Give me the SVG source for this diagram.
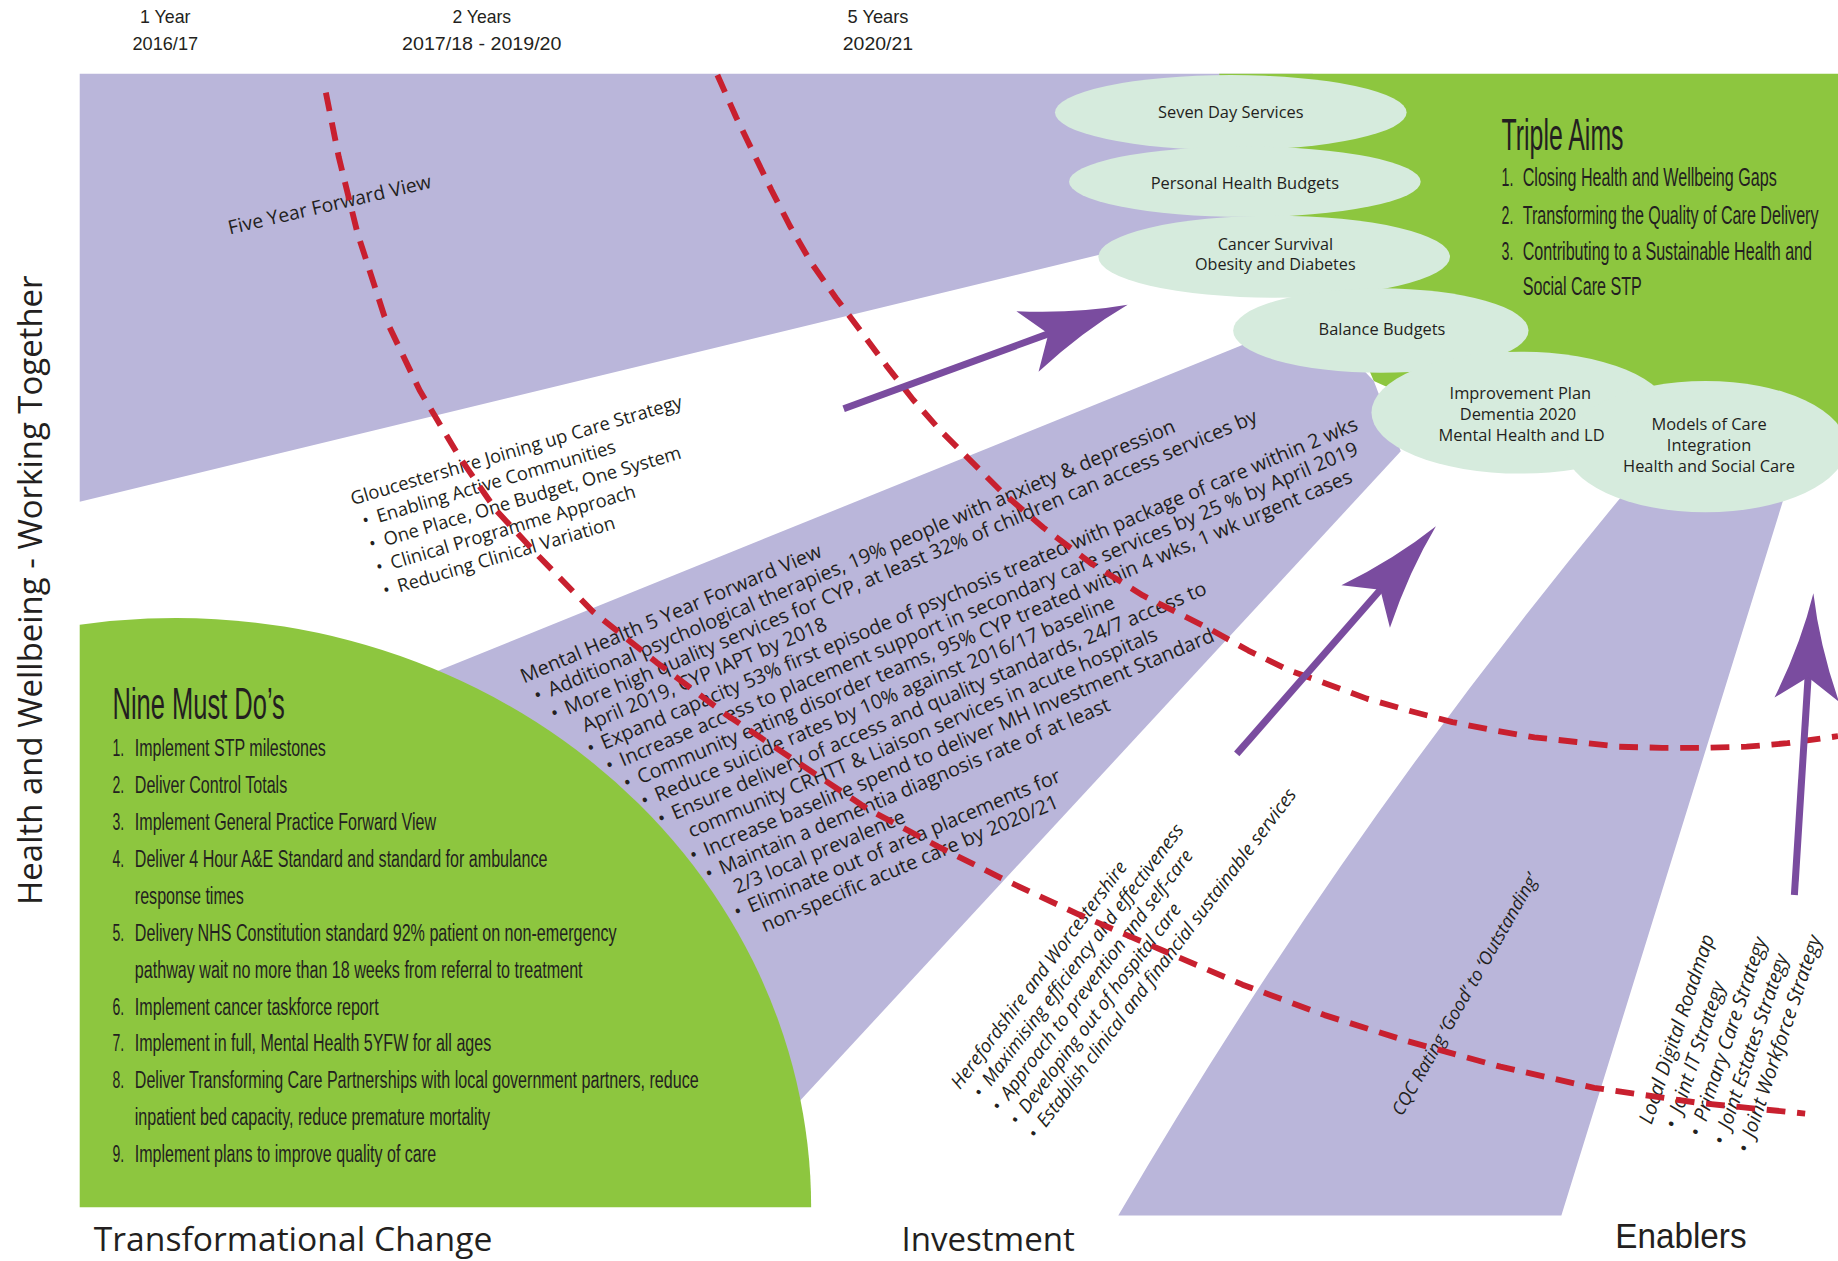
<svg xmlns="http://www.w3.org/2000/svg" width="1838" height="1261" viewBox="0 0 1838 1261">
  <defs>
    <style>
      .band{fill:#bab6da}
      .green{fill:#8dc63f}
      .oval{fill:#d6ebdd}
      .t{font-family:"Open Sans","Liberation Sans",sans-serif;fill:#231f20}
      .n{font-family:"Liberation Sans",Arial,sans-serif;fill:#231f20}
      .i{font-style:italic}
      .c{text-anchor:middle}
      .dash{fill:none;stroke:#c8202f;stroke-width:5;stroke-dasharray:16 10;stroke-linejoin:round}
      .arrow{fill:#7a4c9f}
    </style>
    <!-- arrow pointing along +x with its tip at the origin -->
    <g id="arrow-glyph" class="arrow">
      <rect x="-258" y="-3" width="192" height="6"/>
      <path d="M0,0 Q-44,-8 -91,-27.5 L-72,0 L-91,27.5 Q-44,8 0,0 Z"/>
    </g>
  </defs>

  <rect width="1838" height="1261" fill="#ffffff"/>

  <!-- layout drawn in a 1568-wide unit grid -->
  <g transform="scale(1.17219)">

    <!-- timeline headings -->
    <g id="timeline-labels" class="n c" font-size="15">
      <text x="141" y="20" textLength="43" lengthAdjust="spacingAndGlyphs">1 Year</text>
      <text x="141" y="43" textLength="56" lengthAdjust="spacingAndGlyphs">2016/17</text>
      <text x="411" y="20" textLength="50" lengthAdjust="spacingAndGlyphs">2 Years</text>
      <text x="411" y="43" textLength="136" lengthAdjust="spacingAndGlyphs">2017/18 - 2019/20</text>
      <text x="749" y="20" textLength="52" lengthAdjust="spacingAndGlyphs">5 Years</text>
      <text x="749" y="43" textLength="60" lengthAdjust="spacingAndGlyphs">2020/21</text>
    </g>

    <!-- Five Year Forward View band -->
    <g id="five-year-forward-view">
      <polygon class="band" points="68,63 1120,63 1120,190 1000,202.3 68,428"/>
      <text class="t" font-size="16.5" transform="translate(196,200) rotate(-13)">Five Year Forward View</text>
    </g>

    <!-- Triple Aims (condensed lettering drawn with a horizontal squeeze) -->
    <g id="triple-aims">
      <polygon class="green" points="1040,63 1568,63 1568,380 1400,380 1250,360 1172,325 1140,250 1080,185 1060,126"/>
      <g class="n">
        <text font-size="38" transform="translate(1281,128) scale(0.558,1)">Triple Aims</text>
        <g font-size="22">
          <text transform="translate(1281,159) scale(0.55,1)">1.</text>
          <text transform="translate(1299,159) scale(0.625,1)">Closing Health and Wellbeing Gaps</text>
          <text transform="translate(1281,191) scale(0.55,1)">2.</text>
          <text transform="translate(1299,191) scale(0.625,1)">Transforming the Quality of Care Delivery</text>
          <text transform="translate(1281,222) scale(0.55,1)">3.</text>
          <text transform="translate(1299,222) scale(0.625,1)">Contributing to a Sustainable Health and</text>
          <text transform="translate(1299,252) scale(0.625,1)">Social Care STP</text>
        </g>
      </g>
    </g>

    <!-- Mental Health 5 Year Forward View band -->
    <g id="mental-health-5yfv">
      <polygon class="band" points="330,590 1120,270 1172,325 1195,385 640,985"/>
      <g class="t" font-size="17" transform="translate(447,583) rotate(-23)">
        <text x="0" y="0">Mental Health 5 Year Forward View</text>
        <text x="4" y="19.7">•</text><text x="17" y="19.7">Additional psychological therapies, 19% people with anxiety &amp; depression</text>
        <text x="11" y="39.4">•</text><text x="24" y="39.4">More high quality services for CYP, at least 32% of children can access services by</text>
        <text x="32" y="59.1">April 2019, CYP IAPT by 2018</text>
        <text x="28" y="78.8">•</text><text x="41" y="78.8">Expand capacity 53% first episode of psychosis treated with package of care within 2 wks</text>
        <text x="37" y="98.5">•</text><text x="50" y="98.5">Increase access to placement support in secondary care services by 25 % by April 2019</text>
        <text x="45" y="118.2">•</text><text x="58" y="118.2">Community eating disorder teams, 95% CYP treated within 4 wks, 1 wk urgent cases</text>
        <text x="53" y="137.9">•</text><text x="66" y="137.9">Reduce suicide rates by 10% against 2016/17 baseline</text>
        <text x="60" y="157.6">•</text><text x="73" y="157.6">Ensure delivery of access and quality standards, 24/7 access to</text>
        <text x="80" y="177.3">community CRHTT &amp; Liaison services in acute hospitals</text>
        <text x="73" y="197">•</text><text x="86" y="197">Increase baseline spend to deliver MH Investment Standard</text>
        <text x="79" y="216.7">•</text><text x="92" y="216.7">Maintain a dementia diagnosis rate of at least</text>
        <text x="97" y="236.4">2/3 local prevalence</text>
        <text x="89" y="256.1">•</text><text x="102" y="256.1">Eliminate out of area placements for</text>
        <text x="106" y="275.8">non-specific acute care by 2020/21</text>
      </g>
    </g>

    <!-- CQC rating band -->
    <g id="cqc-rating">
      <path class="band" d="M954,1037 Q1143,713 1383,424 L1390,395 L1530,395 L1523,421 L1332,1037 Z"/>
      <text class="t i" font-size="15.5" transform="translate(1196,953) rotate(-60.2)">CQC Rating ‘Good’ to ‘Outstanding’</text>
    </g>

    <!-- Nine Must Do's -->
    <g id="nine-must-dos">
      <path class="green" d="M68,1030 L68,533 A542,503 0 0 1 692,1030 Z"/>
      <g class="n">
        <text x="96" y="613" font-size="38" textLength="147" lengthAdjust="spacingAndGlyphs">Nine Must Do’s</text>
        <g font-size="21">
          <text x="96" y="645" textLength="10" lengthAdjust="spacingAndGlyphs">1.</text>
          <text x="115" y="645" textLength="163" lengthAdjust="spacingAndGlyphs">Implement STP milestones</text>
          <text x="96" y="676.5" textLength="10" lengthAdjust="spacingAndGlyphs">2.</text>
          <text x="115" y="676.5" textLength="130" lengthAdjust="spacingAndGlyphs">Deliver Control Totals</text>
          <text x="96" y="708" textLength="10" lengthAdjust="spacingAndGlyphs">3.</text>
          <text x="115" y="708" textLength="257" lengthAdjust="spacingAndGlyphs">Implement General Practice Forward View</text>
          <text x="96" y="739.5" textLength="10" lengthAdjust="spacingAndGlyphs">4.</text>
          <text x="115" y="739.5" textLength="352" lengthAdjust="spacingAndGlyphs">Deliver 4 Hour A&amp;E Standard and standard for ambulance</text>
          <text x="115" y="771" textLength="93" lengthAdjust="spacingAndGlyphs">response times</text>
          <text x="96" y="802.5" textLength="10" lengthAdjust="spacingAndGlyphs">5.</text>
          <text x="115" y="802.5" textLength="411" lengthAdjust="spacingAndGlyphs">Delivery NHS Constitution standard 92% patient on non-emergency</text>
          <text x="115" y="834" textLength="382" lengthAdjust="spacingAndGlyphs">pathway wait no more than 18 weeks from referral to treatment</text>
          <text x="96" y="865.5" textLength="10" lengthAdjust="spacingAndGlyphs">6.</text>
          <text x="115" y="865.5" textLength="208" lengthAdjust="spacingAndGlyphs">Implement cancer taskforce report</text>
          <text x="96" y="897" textLength="10" lengthAdjust="spacingAndGlyphs">7.</text>
          <text x="115" y="897" textLength="304" lengthAdjust="spacingAndGlyphs">Implement in full, Mental Health 5YFW for all ages</text>
          <text x="96" y="928.5" textLength="10" lengthAdjust="spacingAndGlyphs">8.</text>
          <text x="115" y="928.5" textLength="481" lengthAdjust="spacingAndGlyphs">Deliver Transforming Care Partnerships with local government partners, reduce</text>
          <text x="115" y="960" textLength="303" lengthAdjust="spacingAndGlyphs">inpatient bed capacity, reduce premature mortality</text>
          <text x="96" y="991.5" textLength="10" lengthAdjust="spacingAndGlyphs">9.</text>
          <text x="115" y="991.5" textLength="257" lengthAdjust="spacingAndGlyphs">Implement plans to improve quality of care</text>
        </g>
      </g>
    </g>

    <!-- outcome ovals -->
    <g id="seven-day-services">
      <ellipse class="oval" cx="1050" cy="96" rx="150" ry="32"/>
      <text class="t c" font-size="14" x="1050" y="101">Seven Day Services</text>
    </g>
    <g id="personal-health-budgets">
      <ellipse class="oval" cx="1062" cy="155" rx="150" ry="30"/>
      <text class="t c" font-size="14" x="1062" y="161">Personal Health Budgets</text>
    </g>
    <g id="cancer-obesity-diabetes">
      <ellipse class="oval" cx="1087" cy="219" rx="150" ry="35"/>
      <text class="t c" font-size="13.8" x="1088" y="213">Cancer Survival</text>
      <text class="t c" font-size="13.8" x="1088" y="230">Obesity and Diabetes</text>
    </g>
    <g id="balance-budgets">
      <ellipse class="oval" cx="1178" cy="282" rx="126" ry="36"/>
      <text class="t c" font-size="14" x="1179" y="286">Balance Budgets</text>
    </g>
    <g id="improvement-plan">
      <ellipse class="oval" cx="1297" cy="352" rx="127" ry="52"/>
    </g>
    <g id="models-of-care">
      <ellipse class="oval" cx="1455" cy="381" rx="120" ry="56"/>
    </g>
    <g id="oval-labels" class="t c" font-size="14">
      <text x="1297" y="340">Improvement Plan</text>
      <text x="1295" y="358">Dementia 2020</text>
      <text x="1298" y="376">Mental Health and LD</text>
      <text x="1458" y="367">Models of Care</text>
      <text x="1458" y="385">Integration</text>
      <text x="1458" y="403">Health and Social Care</text>
    </g>

    <!-- Gloucestershire strategy list -->
    <g id="gloucestershire-strategy" class="t" font-size="15.7" transform="translate(301,431) rotate(-16.5)">
      <text x="0" y="0">Gloucestershire Joining up Care Strategy</text>
      <text x="4" y="20.7">•</text><text x="17" y="20.7">Enabling Active Communities</text>
      <text x="4" y="41.4">•</text><text x="17" y="41.4">One Place, One Budget, One System</text>
      <text x="4" y="62.1">•</text><text x="17" y="62.1">Clinical Programme Approach</text>
      <text x="4" y="82.8">•</text><text x="17" y="82.8">Reducing Clinical Variation</text>
    </g>

    <!-- Herefordshire and Worcestershire list -->
    <g id="herefordshire-worcestershire" class="t i" font-size="16" transform="translate(819,930) rotate(-53)">
      <text x="0" y="0">Herefordshire and Worcestershire</text>
      <text x="5" y="19.5">•</text><text x="18" y="19.5">Maximising efficiency and effectiveness</text>
      <text x="5" y="39">•</text><text x="18" y="39">Approach to prevention and self-care</text>
      <text x="5" y="58.5">•</text><text x="18" y="58.5">Developing out of hospital care</text>
      <text x="5" y="78">•</text><text x="18" y="78">Establish clinical and financial sustainable services</text>
    </g>

    <!-- enabling strategies list -->
    <g id="enabling-strategies" class="t i" font-size="17" transform="translate(1409,960) rotate(-71.5)">
      <text x="0" y="0">Local Digital Roadmap</text>
      <text x="3" y="21.7">•</text><text x="17" y="21.7">Joint IT Strategy</text>
      <text x="3" y="43.4">•</text><text x="17" y="43.4">Primary Care Strategy</text>
      <text x="3" y="65.1">•</text><text x="17" y="65.1">Joint Estates Strategy</text>
      <text x="3" y="86.8">•</text><text x="17" y="86.8">Joint Workforce Strategy</text>
    </g>

    <!-- axis captions -->
    <g id="captions">
      <text class="t" font-size="28" transform="translate(36,772) rotate(-90)" textLength="537" lengthAdjust="spacingAndGlyphs">Health and Wellbeing - Working Together</text>
      <text class="t" x="80" y="1067" font-size="28.5" textLength="340" lengthAdjust="spacingAndGlyphs">Transformational Change</text>
      <text class="t" x="769" y="1067" font-size="28" textLength="148" lengthAdjust="spacingAndGlyphs">Investment</text>
      <text class="n" x="1378" y="1065" font-size="30" textLength="112" lengthAdjust="spacingAndGlyphs">Enablers</text>
    </g>

    <!-- milestone boundaries -->
    <g id="milestone-lines">
      <path class="dash" d="M278,79 L289,134 L305,199 L328,270 L358,333 L392,390 L423,435 L460,475 L506,522 L560,565 L620,610 L680,650 L740,690 L800,722 L860,752 L920,780 L990,810 L1060,840 L1130,866 L1200,888 L1280,910 L1360,928 L1450,941 L1540,950"/>
      <path class="dash" d="M612,64 L628,100 L643,131 L658,162 L674,193 L692,224 L713,254 L734,282 L757,313 L779,341 L802,367 L825,390 L855,420 L890,450 L930,480 L975,508 L1031,536 L1065,555 L1100,572 L1131,583 L1166,596 L1201,606 L1239,616 L1274,623 L1309,629 L1345,633 L1381,637 L1418,638 L1454,638 L1490,637 L1525,634 L1568,628"/>
    </g>

    <!-- direction arrows -->
    <g id="connectors">
      <use href="#arrow-glyph" transform="translate(962,260) rotate(-20.1)"/>
      <use href="#arrow-glyph" transform="translate(1225,449) rotate(-48.8)"/>
      <use href="#arrow-glyph" transform="translate(1547,506) rotate(-86.4)"/>
    </g>
  </g>
</svg>
